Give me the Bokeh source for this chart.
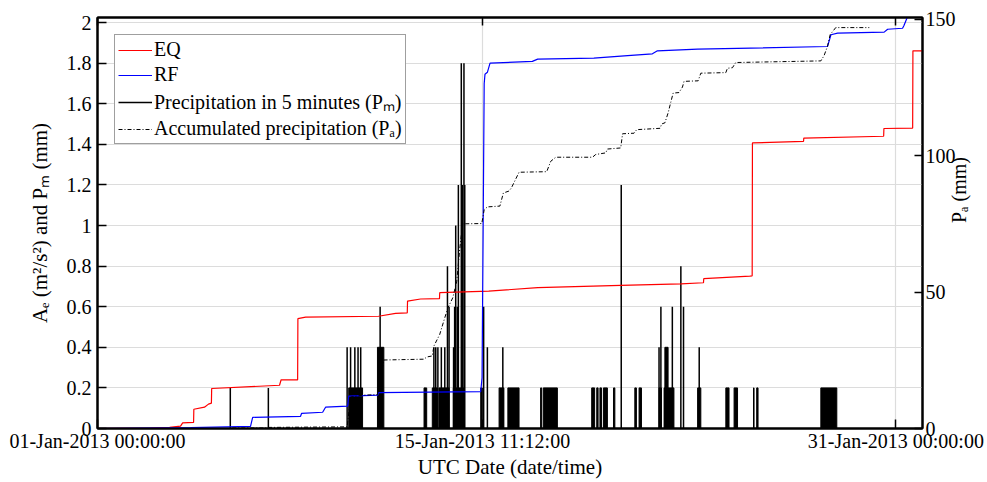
import math
from bokeh.plotting import figure
from bokeh.models import (Range1d, LinearAxis, FixedTicker, Legend, LegendItem,
                          ColumnDataSource, CustomLabelingPolicy)
from bokeh.embed import file_html
from bokeh.resources import INLINE

FONT = "Liberation Serif"

# ---------------- data (x in days since 01-Jan-2013 00:00 UTC) ----------------
x_tick_days = [0, 14.466667, 30]
x_tick_labels = ["01-Jan-2013 00:00:00", "15-Jan-2013 11:12:00", "31-Jan-2013 00:00:00"]
left_ticks = [0, 0.2, 0.4, 0.6, 0.8, 1.0, 1.2, 1.4, 1.6, 1.8, 2.0]
left_tick_labels = ["0", "0.2", "0.4", "0.6", "0.8", "1", "1.2", "1.4", "1.6", "1.8", "2"]
right_ticks = [0, 50, 100, 150]

# EQ (m^2/s^2)
eq_day = [0, 1.99, 2.71, 3.12, 3.20, 3.61, 3.62, 4.02, 4.17, 4.28, 4.29, 6.84, 6.90,
          7.52, 7.53, 7.82, 10.56, 11.20, 11.64, 11.65, 12.14, 12.85, 12.86, 14.70,
          16.54, 19.66, 21.92, 22.77, 22.78, 24.51, 24.60, 24.61, 26.53, 26.54, 29.54,
          29.55, 30.63, 30.64, 31.0]
eq_val = [0, 0.002, 0.006, 0.012, 0.028, 0.03, 0.095, 0.105, 0.12, 0.125, 0.197, 0.213,
          0.24, 0.24, 0.541, 0.549, 0.553, 0.567, 0.57, 0.628, 0.638, 0.64, 0.669, 0.677,
          0.694, 0.705, 0.713, 0.718, 0.738, 0.751, 0.752, 1.407, 1.415, 1.431, 1.44,
          1.478, 1.48, 1.861, 1.861]

# RF (m^2/s^2)
rf_day = [0, 3.50, 5.75, 5.83, 7.63, 7.67, 8.46, 8.57, 9.40, 9.44, 10.53, 10.56, 14.40,
          14.45, 14.53, 14.56, 14.65, 14.75, 16.34, 16.54, 18.65, 19.92, 20.85, 21.04,
          22.55, 27.43, 27.56, 27.81, 29.56, 29.69, 30.25, 30.30, 30.41, 30.49, 31.0]
rf_val = [0, 0.004, 0.01, 0.055, 0.06, 0.075, 0.08, 0.105, 0.11, 0.16, 0.164, 0.177,
          0.182, 0.25, 1.70, 1.745, 1.755, 1.80, 1.809, 1.82, 1.825, 1.837, 1.846, 1.861,
          1.869, 1.882, 1.94, 1.948, 1.953, 1.967, 1.972, 1.984, 2.02, 2.06, 2.06]

# Accumulated precipitation Pa (mm)
pa_day = [0, 4.98, 5.0, 6.41, 6.43, 9.38, 9.51, 9.96, 10.52, 10.76, 12.27, 12.37, 12.58,
          12.64, 12.86, 13.05, 13.17, 13.35, 13.50, 13.61, 13.72, 14.44, 14.53, 14.65,
          15.12, 15.25, 15.46, 15.55, 15.84, 16.88, 17.03, 17.22, 18.60, 18.72, 19.10,
          19.16, 19.66, 19.73, 20.16, 20.26, 21.14, 21.20, 21.32, 21.44, 21.54, 21.63,
          21.85, 21.98, 22.04, 22.57, 22.67, 23.61, 23.67, 23.86, 23.98, 27.18, 27.30,
          27.43, 27.53, 27.74, 29.0]
pa_val = [0, 0, 0.2, 0.2, 0.4, 0.6, 11.5, 12.2, 12.4, 25.1, 25.4, 26.2, 26.6, 30.2, 34.5,
          40.6, 44.3, 47.9, 54.0, 65.6, 75.0, 75.1, 80.2, 81.2, 81.5, 86.3, 87.0, 88.1,
          93.9, 94.1, 97.9, 99.4, 99.4, 100.4, 101.0, 102.4, 102.8, 108.0, 108.2, 109.5,
          110.0, 111.6, 112.0, 115.6, 119.5, 122.9, 123.1, 125.1, 127.2, 127.4, 130.2,
          130.4, 132.0, 132.2, 134.1, 134.7, 136.6, 140.0, 144.3, 146.9, 146.9]

# Precipitation in 5 minutes Pm (mm): isolated bars
pm_bar_day = [4.99, 6.42, 9.38, 9.51, 9.67, 9.79, 9.89, 10.62, 12.64, 12.71, 12.79, 12.92,
              13.05, 13.15, 13.21, 13.38, 13.42, 13.46, 13.52, 13.56, 13.67, 13.71, 13.77,
              13.80, 14.51, 14.65, 15.23, 19.68, 21.10, 21.17, 21.60, 21.92, 22.02, 22.61]
pm_bar_val = [0.2, 0.2, 0.4, 0.4, 0.4, 0.4, 0.4, 0.6, 0.4, 0.4, 0.4, 0.4,
              0.4, 0.8, 0.6, 0.4, 0.6, 1.0, 0.6, 1.2, 1.8, 1.2, 1.8,
              1.2, 0.6, 0.4, 0.4, 1.2, 0.4, 0.6, 0.6, 0.8, 0.6, 0.4]
# Pm: runs of consecutive 5-minute bars
pm_block_start = [9.44, 10.52, 12.27, 12.58, 12.83, 13.37, 14.40, 15.09, 15.42, 16.65,
                  16.75, 18.57, 18.76, 18.88, 19.01, 19.39, 20.19, 20.35, 21.10, 21.29,
                  21.32, 22.55, 23.61, 23.92, 24.65, 24.77, 27.18]
pm_block_end = [9.96, 10.76, 12.37, 12.77, 13.21, 13.77, 14.46, 15.27, 15.84, 16.69,
                17.28, 18.68, 18.81, 18.94, 19.16, 19.44, 20.25, 20.44, 21.19, 21.66,
                21.44, 22.67, 23.73, 24.05, 24.67, 24.82, 27.78]
pm_block_val = [0.2, 0.4, 0.2, 0.2, 0.2, 0.2, 0.2, 0.2, 0.2, 0.2,
                0.2, 0.2, 0.2, 0.2, 0.2, 0.2, 0.2, 0.2, 0.2, 0.2,
                0.4, 0.2, 0.2, 0.2, 0.2, 0.2, 0.2]

# ---------------- figure ----------------
p = figure(width=987, height=482, x_range=Range1d(0, 31.0), y_range=Range1d(0, 2.025),
           output_backend="svg", toolbar_location=None,
           min_border_left=97, min_border_right=65, min_border_top=16, min_border_bottom=54)
p.extra_y_ranges = {"pa": Range1d(0, 150.6)}
p.background_fill_color = "white"
p.border_fill_color = "white"
p.outline_line_color = "black"
p.outline_line_width = 2

xa = p.below[0]
ya = p.left[0]

ax_r = LinearAxis(y_range_name="pa", ticker=FixedTicker(ticks=right_ticks),
                  axis_label="Pₐ (mm)")
p.add_layout(ax_r, "right")
ax_top = LinearAxis(ticker=FixedTicker(ticks=x_tick_days),
                    major_label_policy=CustomLabelingPolicy(code="return new Set()"))
p.add_layout(ax_top, "above")

xa.ticker = FixedTicker(ticks=x_tick_days)
xa.major_label_overrides = dict(zip(x_tick_days, x_tick_labels))
xa.axis_label = "UTC Date (date/time)"
ya.ticker = FixedTicker(ticks=left_ticks)
ya.major_label_overrides = dict(zip(left_ticks, left_tick_labels))
ya.axis_label = "Aₑ (m²/s²) and Pₘ (mm)"

for ax in [xa, ya, ax_r, ax_top]:
    ax.major_label_text_font = FONT
    ax.major_label_text_font_size = "20px"
    ax.major_label_text_color = "black"
    ax.axis_label_text_font = FONT
    ax.axis_label_text_font_size = "21px"
    ax.axis_label_text_font_style = "normal"
    ax.axis_label_text_color = "black"
    ax.major_tick_in = 9
    ax.major_tick_out = 0
    ax.minor_tick_in = 0
    ax.minor_tick_out = 0
    ax.major_tick_line_color = "black"
    ax.major_tick_line_width = 1.5
    ax.axis_line_color = "black"
    ax.axis_line_width = 2

xa.major_label_standoff = 1
xa.axis_label_standoff = 0
ya.major_label_standoff = 6
ya.axis_label_standoff = 12
ax_r.major_label_standoff = 3
ax_r.axis_label_standoff = 0
ax_r.axis_label_text_font_size = "20px"
ax_r.major_tick_in = 8
ax_top.major_label_standoff = 0
ax_top.major_tick_in = 8
try:
    ax_r.axis_label_orientation = math.pi / 2
except Exception:
    pass

p.xgrid.ticker = FixedTicker(ticks=x_tick_days)
p.ygrid.ticker = FixedTicker(ticks=left_ticks)
for g in (p.xgrid, p.ygrid):
    g.grid_line_color = "#dcdcdc"
    g.grid_line_width = 1.2

# ---------------- glyphs ----------------
blk = ColumnDataSource(dict(left=pm_block_start, right=pm_block_end, top=pm_block_val))
p.quad(left="left", right="right", bottom=0, top="top", source=blk,
       fill_color="black", line_color="black", line_width=1)
bars = ColumnDataSource(dict(x=pm_bar_day, top=pm_bar_val))
r_pm = p.segment(x0="x", y0=0, x1="x", y1="top", source=bars,
                 line_color="black", line_width=1.5)

r_eq = p.line(eq_day, eq_val, line_color="#ff0000", line_width=1.2)
r_rf = p.line(rf_day, rf_val, line_color="#0000ff", line_width=1.2)
r_pa = p.line(pa_day, pa_val, line_color="black", line_width=1, line_dash="4 2 1 2",
              y_range_name="pa")

legend = Legend(items=[
    LegendItem(label="EQ", renderers=[r_eq]),
    LegendItem(label="RF", renderers=[r_rf]),
    LegendItem(label="Precipitation in 5 minutes (Pₘ)", renderers=[r_pm]),
    LegendItem(label="Accumulated precipitation (Pₐ)", renderers=[r_pa]),
], location="top_left")
legend.label_text_font = FONT
legend.label_text_font_size = "20px"
legend.label_text_color = "black"
legend.glyph_width = 34
legend.glyph_height = 20
legend.label_standoff = 2
legend.padding = 3
legend.spacing = 2
legend.margin = 17
legend.border_line_color = "#404040"
legend.border_line_width = 1
legend.background_fill_alpha = 1.0
p.add_layout(legend)

open("out.html", "w").write(file_html(p, INLINE))
